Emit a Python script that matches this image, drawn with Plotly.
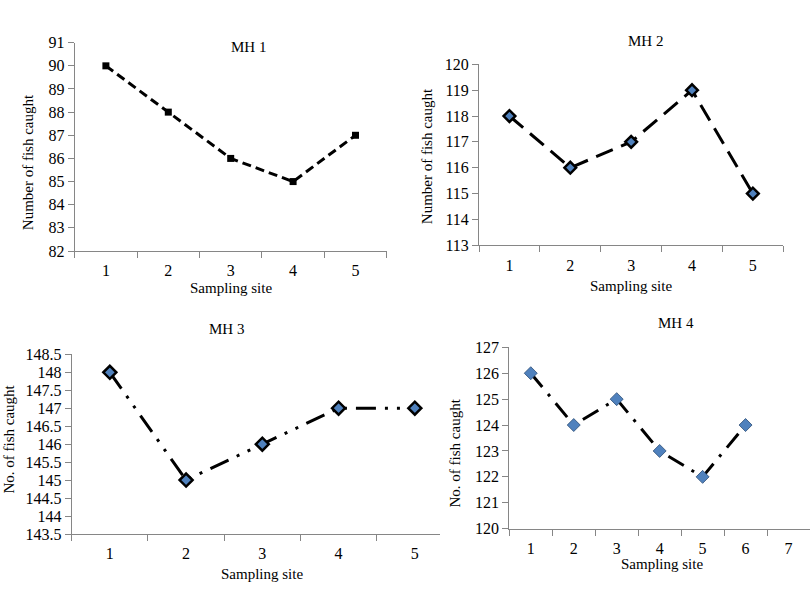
import plotly.graph_objects as go

W, H = 810, 601

# ---- data ----
sites_5 = ["1", "2", "3", "4", "5"]
sites_7 = ["1", "2", "3", "4", "5", "6", "7"]
mh1_sites = ["1", "2", "3", "4", "5"]
mh1_vals = [90, 88, 86, 85, 87]
mh2_sites = ["1", "2", "3", "4", "5"]
mh2_vals = [118, 116, 117, 119, 115]
mh3_sites = ["1", "2", "3", "4", "5"]
mh3_vals = [148, 145, 146, 147, 147]
mh4_sites = ["1", "2", "3", "4", "5", "6"]
mh4_vals = [126, 124, 125, 123, 122, 124]

FONT = "Liberation Serif"
AXC = "#868686"


def px(x):
    return x / W


def py(y):
    return 1 - y / H


fig = go.Figure()

fig.add_trace(go.Scatter(
    x=mh1_sites, y=mh1_vals, xaxis="x", yaxis="y", mode="lines+markers",
    line=dict(color="black", width=3, dash="9px,5px"),
    marker=dict(symbol="square", size=7, color="black"), cliponaxis=False))
fig.add_trace(go.Scatter(
    x=mh2_sites, y=mh2_vals, xaxis="x2", yaxis="y2", mode="lines+markers",
    line=dict(color="black", width=3, dash="18px,9px"),
    marker=dict(symbol="diamond", size=9, color="#4F81BD",
                line=dict(color="black", width=2.5)), cliponaxis=False))
fig.add_trace(go.Scatter(
    x=mh3_sites, y=mh3_vals, xaxis="x3", yaxis="y3", mode="lines+markers",
    line=dict(color="black", width=3, dash="20px,9px,3px,9px,3px,9px"),
    marker=dict(symbol="diamond", size=10, color="#4F81BD",
                line=dict(color="black", width=2.5)), cliponaxis=False))
fig.add_trace(go.Scatter(
    x=mh4_sites, y=mh4_vals, xaxis="x4", yaxis="y4", mode="lines+markers",
    line=dict(color="black", width=3, dash="18px,9px,3px,9px"),
    marker=dict(symbol="diamond", size=10, color="#4F81BD",
                line=dict(color="#2c4d75", width=0.8)), cliponaxis=False))


def xaxis(dom, cats, rng, anchor):
    return dict(domain=[px(dom[0]), px(dom[1])], type="category",
                categoryorder="array", categoryarray=cats, range=rng,
                tickson="boundaries", ticks="outside", ticklen=6,
                ticklabelstandoff=5,
                tickcolor=AXC, showline=True, linecolor=AXC, linewidth=1,
                showgrid=False, zeroline=False, anchor=anchor,
                tickfont=dict(family=FONT, size=16, color="black"))


def yaxis(dom, rng, dtick, anchor):
    return dict(domain=[py(dom[1]), py(dom[0])], range=rng, dtick=dtick,
                tick0=rng[0], ticks="outside", ticklen=6, tickcolor=AXC,
                showline=True, linecolor=AXC, linewidth=1, showgrid=False,
                zeroline=False, anchor=anchor,
                tickfont=dict(family=FONT, size=16, color="black"))


fig.update_layout(
    width=W, height=H,
    margin=dict(l=0, r=0, t=0, b=0, pad=0, autoexpand=False),
    paper_bgcolor="white", plot_bgcolor="rgba(0,0,0,0)", showlegend=False,
    xaxis=xaxis((74.7, 386.7), sites_5, [-0.5, 4.5], "y"),
    yaxis=yaxis((42.7, 251), [82, 91], 1, "x"),
    xaxis2=xaxis((479, 783.3), sites_5, [-0.5, 4.5], "y2"),
    yaxis2=yaxis((64.3, 245.3), [113, 120], 1, "x2"),
    xaxis3=xaxis((71.7, 440), sites_5, [-0.5, 4.33], "y3"),
    yaxis3=yaxis((354.3, 534), [143.5, 148.5], 0.5, "x3"),
    xaxis4=xaxis((509.3, 810), sites_7, [-0.5, 6.5], "y4"),
    yaxis4=yaxis((347.3, 528.7), [120, 127], 1, "x4"),
)

texts = [
    ("MH 1", 248, 46.7, 0),
    ("MH 2", 645, 41, 0),
    ("MH 3", 226.7, 329, 0),
    ("MH 4", 676, 323.3, 0),
    ("Sampling site", 231, 287.7, 0),
    ("Sampling site", 631, 286, 0),
    ("Sampling site", 262, 574.3, 0),
    ("Sampling site", 662, 564.3, 0),
    ("Number of fish caught", 27.7, 162.5, -90),
    ("Number of fish caught", 426.5, 156.7, -90),
    ("No. of fish caught", 8.8, 438.8, -90),
    ("No. of fish caught", 454, 452.5, -90),
]
for t, x, y, ang in texts:
    fig.add_annotation(text=t, x=px(x), y=py(y), xref="paper", yref="paper",
                       showarrow=False, textangle=ang, xanchor="center",
                       yanchor="middle",
                       font=dict(family=FONT, size=15, color="black"))

post = (
    "document.documentElement.style.margin='0';"
    "document.documentElement.style.overflow='hidden';"
    "document.body.style.margin='0';"
    "document.body.style.overflow='hidden';"
    "var g=document.querySelector('.plotly-graph-div');"
    "g.style.position='fixed';g.style.top='0px';g.style.left='0px';"
)

fig.write_html("out.html", config={"displayModeBar": False}, post_script=post)
